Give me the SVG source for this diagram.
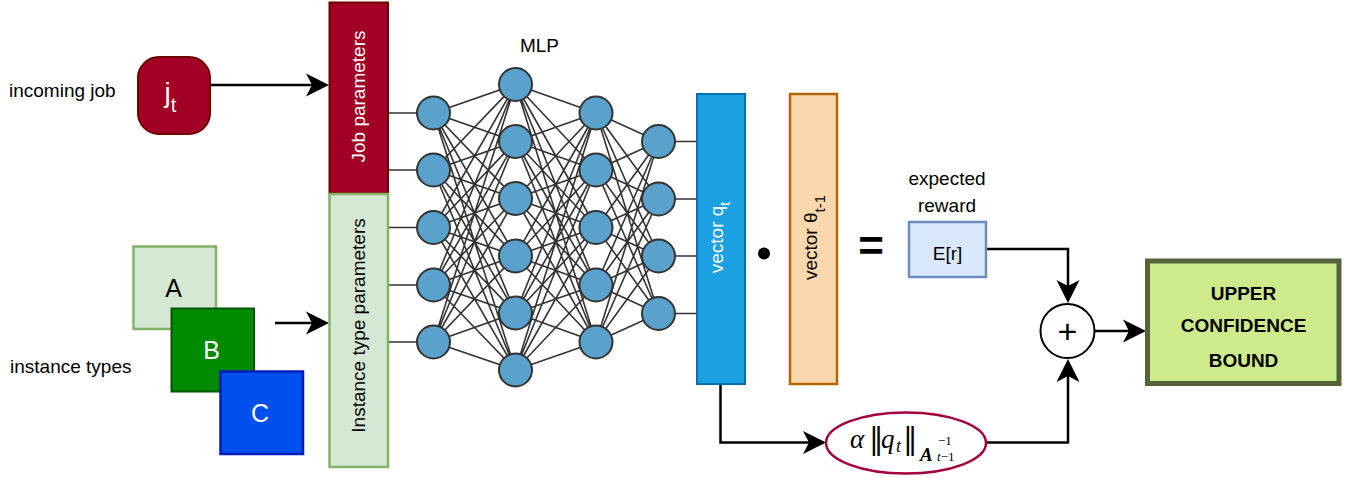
<svg xmlns="http://www.w3.org/2000/svg" width="1359" height="478" viewBox="0 0 1359 478">
<style>
  text { font-family: "Liberation Sans", Arial, sans-serif; }
  .lbl { font-size: 19px; fill: #000; }
  .wht { fill: #fff; }
  .mesh { stroke: #333; stroke-width: 1.6; fill: none; }
  .neuron { fill: #5aa2cb; stroke: #333; stroke-width: 2; }
  .arrow { stroke: #000; stroke-width: 2.5; fill: none; marker-end: url(#arr); }
  .math { font-family: "Liberation Serif", "Times New Roman", serif; fill: #000; }
  .bar { font-family: "DejaVu Serif", "DejaVu Sans", serif; fill: #000; }
</style>
<defs>
  <marker id="arr" viewBox="0 0 24 24" refX="13" refY="12" markerWidth="24" markerHeight="24" markerUnits="userSpaceOnUse" orient="auto">
    <path d="M0,0.5 L23,12 L0,23.5 L6,12 Z" fill="#000"/>
  </marker>
</defs>
<rect width="1359" height="478" fill="#fff"/>

<g id="connectors">
  <path class="mesh" d="M433.5 113L515.5 84.5M433.5 113L515.5 141.5M433.5 113L515.5 198.5M433.5 113L515.5 256M433.5 113L515.5 313M433.5 113L515.5 370
M433.5 170L515.5 84.5M433.5 170L515.5 141.5M433.5 170L515.5 198.5M433.5 170L515.5 256M433.5 170L515.5 313M433.5 170L515.5 370
M433.5 227.5L515.5 84.5M433.5 227.5L515.5 141.5M433.5 227.5L515.5 198.5M433.5 227.5L515.5 256M433.5 227.5L515.5 313M433.5 227.5L515.5 370
M433.5 285L515.5 84.5M433.5 285L515.5 141.5M433.5 285L515.5 198.5M433.5 285L515.5 256M433.5 285L515.5 313M433.5 285L515.5 370
M433.5 342L515.5 84.5M433.5 342L515.5 141.5M433.5 342L515.5 198.5M433.5 342L515.5 256M433.5 342L515.5 313M433.5 342L515.5 370"/>
  <path class="mesh" d="M515.5 84.5L596 113M515.5 84.5L596 170M515.5 84.5L596 227.5M515.5 84.5L596 285M515.5 84.5L596 342
M515.5 141.5L596 113M515.5 141.5L596 170M515.5 141.5L596 227.5M515.5 141.5L596 285M515.5 141.5L596 342
M515.5 198.5L596 113M515.5 198.5L596 170M515.5 198.5L596 227.5M515.5 198.5L596 285M515.5 198.5L596 342
M515.5 256L596 113M515.5 256L596 170M515.5 256L596 227.5M515.5 256L596 285M515.5 256L596 342
M515.5 313L596 113M515.5 313L596 170M515.5 313L596 227.5M515.5 313L596 285M515.5 313L596 342
M515.5 370L596 113M515.5 370L596 170M515.5 370L596 227.5M515.5 370L596 285M515.5 370L596 342"/>
  <path class="mesh" d="M596 113L658.5 141.5M596 113L658.5 199M596 113L658.5 256M596 113L658.5 313.5
M596 170L658.5 141.5M596 170L658.5 199M596 170L658.5 256M596 170L658.5 313.5
M596 227.5L658.5 141.5M596 227.5L658.5 199M596 227.5L658.5 256M596 227.5L658.5 313.5
M596 285L658.5 141.5M596 285L658.5 199M596 285L658.5 256M596 285L658.5 313.5
M596 342L658.5 141.5M596 342L658.5 199M596 342L658.5 256M596 342L658.5 313.5"/>
  <path class="mesh" d="M388 113H433.5M388 170H433.5M388 227.5H433.5M388 285H433.5M388 342H433.5"/>
  <path class="mesh" d="M658.5 141.5H697M658.5 199H697M658.5 256H697M658.5 313.5H697"/>
  <path class="arrow" d="M210 85H319"/>
  <path class="arrow" d="M275 323H319"/>
  <path class="arrow" d="M986 249H1068V293"/>
  <path class="arrow" d="M720.5 384V442.5H816"/>
  <path class="arrow" d="M986 442.5H1068V369"/>
  <path class="arrow" d="M1095 331H1136"/>
</g>

<text class="lbl" x="9" y="97">incoming job</text>
<text class="lbl" x="10" y="373">instance types</text>
<text class="lbl" x="539.5" y="51.5" text-anchor="middle">MLP</text>

<g id="job-node">
  <rect x="138" y="57" width="72" height="77" rx="21" fill="#a20025" stroke="#6f0000" stroke-width="2"/>
  <text x="164.5" y="102" class="wht" font-size="28">j<tspan font-size="20" dy="9.5">t</tspan></text>
</g>

<g id="job-params">
  <rect x="329.5" y="2.5" width="58.5" height="191" fill="#a20025" stroke="#6f0000" stroke-width="2"/>
  <text class="lbl wht" transform="translate(365,96.5) rotate(-90)" text-anchor="middle">Job parameters</text>
</g>

<g id="instance-params">
  <rect x="329.5" y="194" width="58.5" height="273" fill="#d5e8d4" stroke="#82b366" stroke-width="2.5"/>
  <text class="lbl" transform="translate(365,325.5) rotate(-90)" text-anchor="middle">Instance type parameters</text>
</g>

<g id="inst-A">
  <rect x="133.5" y="246.5" width="82.5" height="82.5" fill="#d5e8d4" stroke="#82b366" stroke-width="2.5"/>
  <text x="173.5" y="296.5" font-size="25" text-anchor="middle" fill="#000">A</text>
</g>
<g id="inst-B">
  <rect x="171.5" y="308.5" width="82.5" height="83" fill="#008a00" stroke="#005700" stroke-width="2"/>
  <text x="211.5" y="359" font-size="25" text-anchor="middle" fill="#fff">B</text>
</g>
<g id="inst-C">
  <rect x="220.5" y="371.5" width="82.5" height="82.5" fill="#0050ef" stroke="#001dbc" stroke-width="2.5"/>
  <text x="260" y="421.5" font-size="25" text-anchor="middle" fill="#fff">C</text>
</g>

<g id="mlp">
  <circle id="n1-1" class="neuron" cx="433.5" cy="113" r="16.5"/>
  <circle id="n1-2" class="neuron" cx="433.5" cy="170" r="16.5"/>
  <circle id="n1-3" class="neuron" cx="433.5" cy="227.5" r="16.5"/>
  <circle id="n1-4" class="neuron" cx="433.5" cy="285" r="16.5"/>
  <circle id="n1-5" class="neuron" cx="433.5" cy="342" r="16.5"/>
  <circle id="n2-1" class="neuron" cx="515.5" cy="84.5" r="16.5"/>
  <circle id="n2-2" class="neuron" cx="515.5" cy="141.5" r="16.5"/>
  <circle id="n2-3" class="neuron" cx="515.5" cy="198.5" r="16.5"/>
  <circle id="n2-4" class="neuron" cx="515.5" cy="256" r="16.5"/>
  <circle id="n2-5" class="neuron" cx="515.5" cy="313" r="16.5"/>
  <circle id="n2-6" class="neuron" cx="515.5" cy="370" r="16.5"/>
  <circle id="n3-1" class="neuron" cx="596" cy="113" r="16.5"/>
  <circle id="n3-2" class="neuron" cx="596" cy="170" r="16.5"/>
  <circle id="n3-3" class="neuron" cx="596" cy="227.5" r="16.5"/>
  <circle id="n3-4" class="neuron" cx="596" cy="285" r="16.5"/>
  <circle id="n3-5" class="neuron" cx="596" cy="342" r="16.5"/>
  <circle id="n4-1" class="neuron" cx="658.5" cy="141.5" r="16.5"/>
  <circle id="n4-2" class="neuron" cx="658.5" cy="199" r="16.5"/>
  <circle id="n4-3" class="neuron" cx="658.5" cy="256" r="16.5"/>
  <circle id="n4-4" class="neuron" cx="658.5" cy="313.5" r="16.5"/>
</g>

<g id="vector-q">
  <rect x="697" y="94" width="48" height="290" fill="#1ba1e2" stroke="#006eaf" stroke-width="2"/>
  <text class="lbl wht" transform="translate(723,237.5) rotate(-90)" text-anchor="middle">vector q<tspan font-size="14" dy="7">t</tspan></text>
</g>

<g id="dot-op">
  <circle cx="764" cy="253.5" r="6" fill="#000"/>
</g>

<g id="vector-theta">
  <rect x="790" y="94" width="47" height="290" fill="#fad7ac" stroke="#b46504" stroke-width="2.5"/>
  <text class="lbl" transform="translate(816.5,237.5) rotate(-90)" text-anchor="middle">vector θ<tspan font-size="15" dy="8">t-1</tspan></text>
</g>

<g id="equals">
  <text x="871" y="260.5" font-size="44" font-weight="bold" text-anchor="middle" fill="#000">=</text>
</g>

<g id="expected-reward">
  <text class="lbl" x="947" y="185" text-anchor="middle">expected</text>
  <text class="lbl" x="947" y="211.5" text-anchor="middle">reward</text>
  <rect x="909" y="222" width="77" height="55" fill="#dae8fc" stroke="#6c8ebf" stroke-width="2.5"/>
  <text class="lbl" x="947.5" y="260" text-anchor="middle">E[r]</text>
</g>

<g id="plus">
  <circle cx="1067.5" cy="331" r="27" fill="#fff" stroke="#000" stroke-width="2"/>
  <text x="1067.5" y="343" font-size="34" text-anchor="middle" fill="#000">+</text>
</g>

<g id="ucb">
  <rect x="1147.5" y="261" width="191.5" height="122.5" fill="#cdeb8b" stroke="#56633a" stroke-width="5"/>
  <text x="1243.5" y="300" font-size="19" font-weight="bold" text-anchor="middle" fill="#000">UPPER</text>
  <text x="1243.5" y="332" font-size="19" font-weight="bold" text-anchor="middle" fill="#000">CONFIDENCE</text>
  <text x="1243.5" y="367" font-size="19" font-weight="bold" text-anchor="middle" fill="#000">BOUND</text>
</g>

<g id="exploration">
  <ellipse cx="906" cy="443" rx="80" ry="30.5" fill="#fff" stroke="#a50040" stroke-width="2.5"/>
  <text class="math" x="850" y="448" font-size="27" font-style="italic">α</text>
  <text class="bar" x="869" y="449" font-size="29">‖</text>
  <text class="math" x="881" y="448" font-size="27" font-style="italic">q</text>
  <text class="math" x="896" y="452" font-size="18" font-style="italic">t</text>
  <text class="bar" x="903" y="449" font-size="29">‖</text>
  <text class="math" x="920" y="461" font-size="19" font-style="italic" font-weight="bold">A</text>
  <text class="math" x="938" y="445" font-size="13">−1</text>
  <text class="math" x="937" y="461" font-size="13"><tspan font-style="italic">t</tspan>−1</text>
</g>
</svg>
